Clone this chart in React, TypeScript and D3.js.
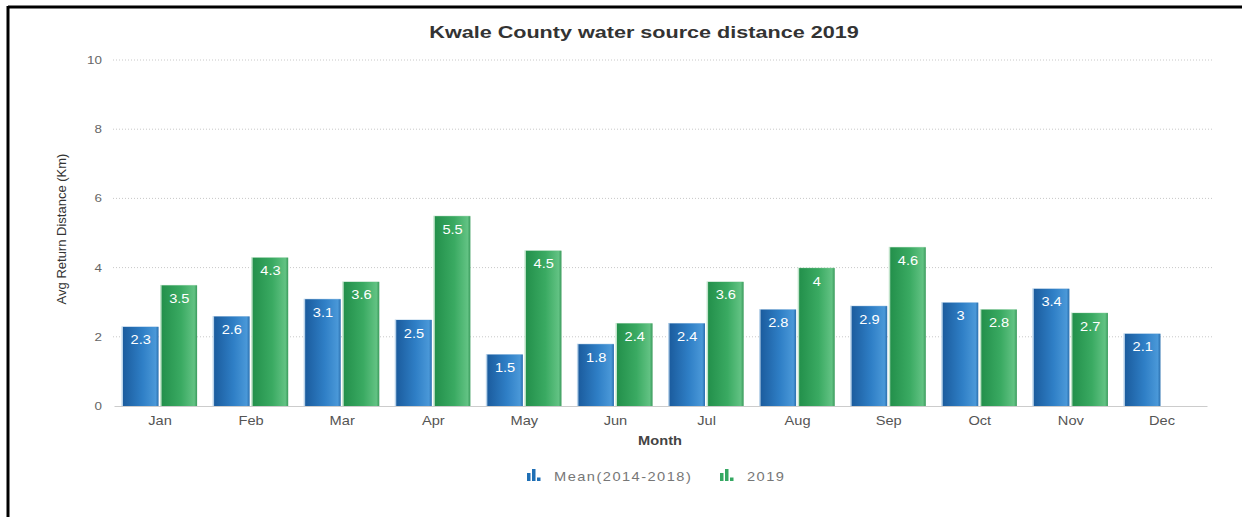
import React from "react";
import * as d3 from "d3";

const months = ["Jan", "Feb", "Mar", "Apr", "May", "Jun", "Jul", "Aug", "Sep", "Oct", "Nov", "Dec"];
const meanValues: (number | null)[] = [2.3, 2.6, 3.1, 2.5, 1.5, 1.8, 2.4, 2.8, 2.9, 3, 3.4, 2.1];
const values2019: (number | null)[] = [3.5, 4.3, 3.6, 5.5, 4.5, 2.4, 3.6, 4, 4.6, 2.8, 2.7, null];
const seriesNames = ["Mean(2014-2018)", "2019"];
const yTicks = [0, 2, 4, 6, 8, 10];
const title = "Kwale County water source distance 2019";
const yTitle = "Avg Return Distance (Km)";
const xTitle = "Month";

const W = 1242;
const H = 517;
const SX = 1.22; // horizontal stretch of texts in the reference

const STX = ({ x, y, anchor = "middle", sx = SX, children, ...rest }: any) => (
  <text
    transform={`translate(${x},${y}) scale(${sx},1)`}
    textAnchor={anchor}
    {...rest}
  >
    {children}
  </text>
);

export default function App() {
  const left = 114.5;
  const right = 1207.5;
  const top = 60;
  const bottom = 406;
  const x0 = d3.scaleBand<string>().domain(months).range([left, right]).padding(0);
  const step = x0.step();
  const x1 = d3
    .scaleBand<string>()
    .domain(["mean", "y2019"])
    .range([8.5, step - 8.5])
    .paddingInner(0.08);
  const y = d3.scaleLinear().domain([0, 10]).range([bottom, top]);
  const font = "'Liberation Sans', Arial, sans-serif";

  const series = [
    { key: "mean", values: meanValues, grad: "gBlue", stroke: "#b9d3ea" },
    { key: "y2019", values: values2019, grad: "gGreen", stroke: "#bfe3c9" },
  ];

  return (
    <div style={{ position: "absolute", left: 0, top: 0 }}>
      <svg width={W} height={H} style={{ display: "block" }} fontFamily={font}>
        <defs>
          <linearGradient id="gBlue" x1="0" x2="1" y1="0" y2="0">
            <stop offset="0%" stopColor="#1b5c9e" />
            <stop offset="55%" stopColor="#2f7fc6" />
            <stop offset="92%" stopColor="#4a98d8" />
            <stop offset="100%" stopColor="#2a6fae" />
          </linearGradient>
          <linearGradient id="gGreen" x1="0" x2="1" y1="0" y2="0">
            <stop offset="0%" stopColor="#23904b" />
            <stop offset="55%" stopColor="#3aaa62" />
            <stop offset="92%" stopColor="#62c283" />
            <stop offset="100%" stopColor="#3a9a5c" />
          </linearGradient>
        </defs>
        <rect x={0} y={0} width={W} height={H} fill="#fff" />
        {/* frame */}
        <line x1={8} x2={W} y1={7} y2={7} stroke="#000" strokeWidth={3} />
        <line x1={8} x2={8} y1={6} y2={H} stroke="#000" strokeWidth={3} />

        <STX x={644} y={38} fontSize={17} sx={1.27} fontWeight="bold" fill="#333">
          {title}
        </STX>

        {/* grid */}
        {yTicks.map((t) => (
          <g key={t}>
            {t > 0 && (
              <line
                x1={113}
                x2={1212}
                y1={y(t)}
                y2={y(t)}
                stroke="#c8c8c8"
                strokeWidth={1}
                strokeDasharray="1,2"
              />
            )}
            <STX x={102} y={y(t) + 4} anchor="end" fontSize={11} fill="#666">
              {t}
            </STX>
          </g>
        ))}
        <line x1={left} x2={right} y1={bottom + 0.5} y2={bottom + 0.5} stroke="#cccccc" strokeWidth={1} />

        {/* bars */}
        {months.map((m, i) => (
          <g key={m}>
            {series.map((s) => {
              const v = s.values[i];
              if (v == null) return null;
              const bx = (x0(m) as number) + (x1(s.key) as number);
              const bw = x1.bandwidth();
              const by = y(v);
              return (
                <g key={s.key}>
                  <rect x={bx - 1.5} y={by} width={bw + 1.5} height={bottom - by} fill={s.stroke} />
                  <rect x={bx} y={by + 0.5} width={bw} height={bottom - by - 0.5} fill={`url(#${s.grad})`} />
                  <STX x={bx + bw / 2} y={by + 18} fontSize={12} fill="#fff">
                    {String(v)}
                  </STX>
                </g>
              );
            })}
            <STX x={(x0(m) as number) + step / 2} y={425} fontSize={12} fill="#555">
              {m}
            </STX>
          </g>
        ))}

        <STX x={660} y={445} fontSize={12} fontWeight="bold" fill="#444">
          {xTitle}
        </STX>

        <text
          transform={`translate(66,${229}) rotate(-90)`}
          textAnchor="middle"
          fontSize={13}
          fill="#333"
        >
          {yTitle}
        </text>

        {/* legend */}
        {[
          { x: 527, color: "#1f6fb5", name: seriesNames[0] },
          { x: 720, color: "#35a862", name: seriesNames[1] },
        ].map((l) => (
          <g key={l.name}>
            <rect x={l.x} y={473} width={3.5} height={8} fill={l.color} />
            <rect x={l.x + 5} y={469} width={3.5} height={12} fill={l.color} />
            <rect x={l.x + 10} y={477.5} width={3.5} height={3.5} fill={l.color} />
            <STX x={l.x + 27} y={481} anchor="start" fontSize={12} fill="#777" letterSpacing={1.2}>
              {l.name}
            </STX>
          </g>
        ))}
      </svg>
    </div>
  );
}
